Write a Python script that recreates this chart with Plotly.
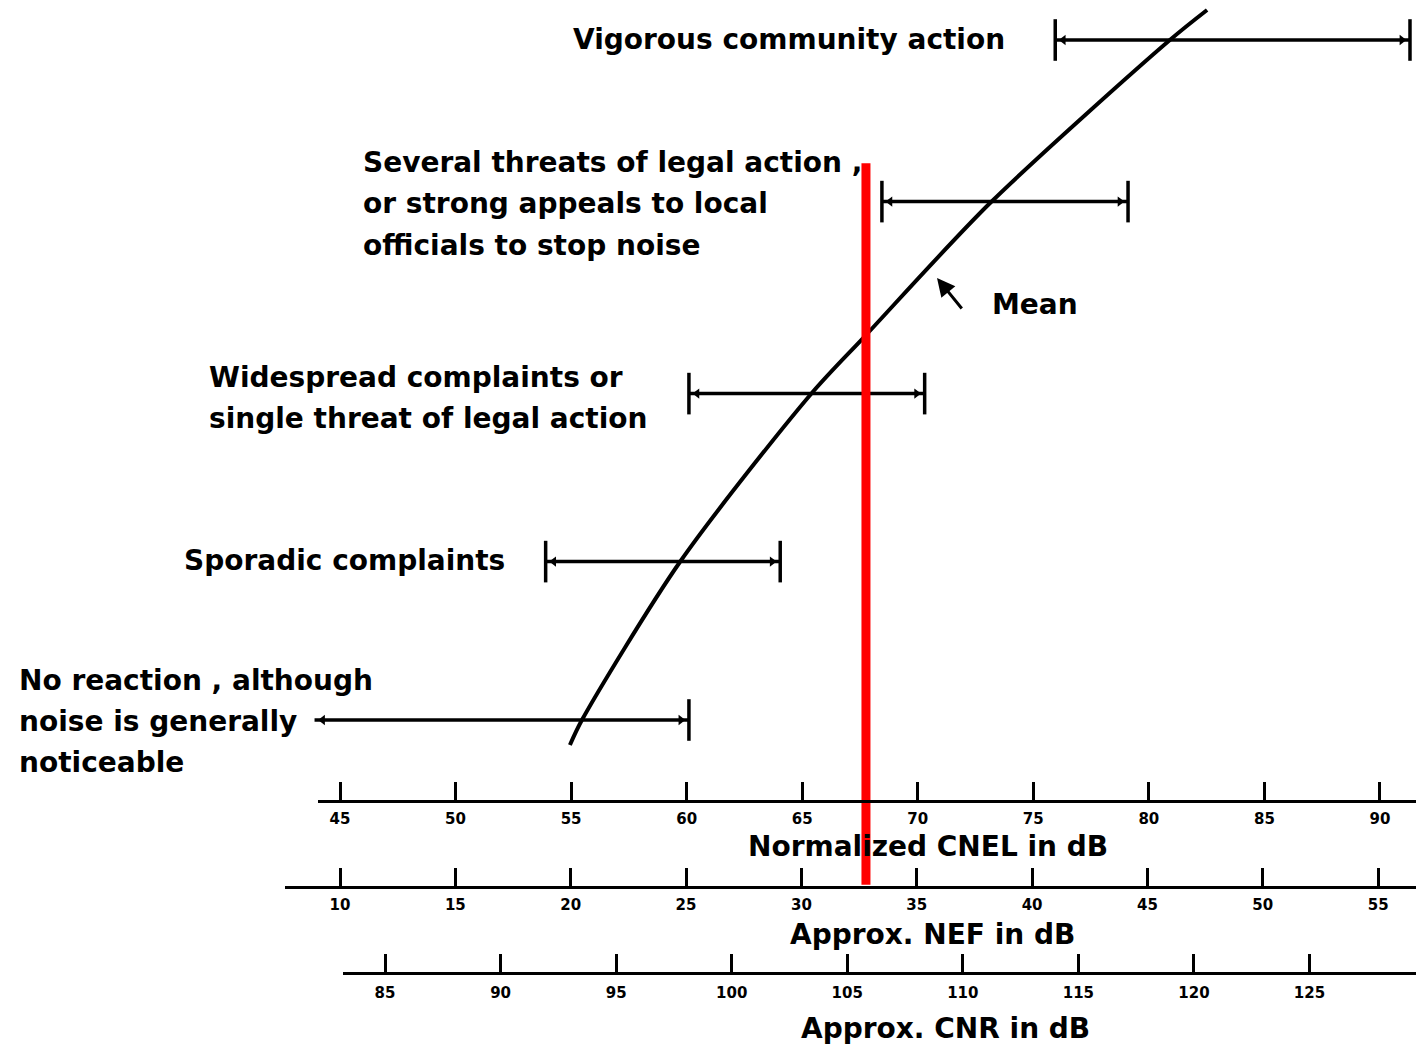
import plotly.graph_objects as go

# ---------------- data ----------------
# Community reaction levels (ordinal scale, vertical position of each row)
levels = ["No reaction", "Sporadic complaints", "Widespread complaints",
          "Threats of legal action", "Vigorous community action"]
level_y = [0.0, 0.99, 2.04, 3.24, 4.25]
# CNEL range (dB) over which each reaction is observed
range_low = [43.9, 53.9, 60.1, 68.45, 75.95]
range_high = [60.1, 64.05, 70.3, 79.1, 91.3]
left_cap = [False, True, True, True, True]
# Mean reaction curve (CNEL dB vs reaction level)
mean_cnel = [54.95, 55.47, 59.71, 65.42, 67.76, 73.13, 80.91, 82.52]
mean_level = [-0.156, 0.0, 0.9875, 2.044, 2.406, 3.231, 4.25, 4.4375]
# Project CNEL marker (red line)
marker_cnel = 67.76
marker_level = [3.48, -1.03]

# Axis tick values
cnel_ticks = [45, 50, 55, 60, 65, 70, 75, 80, 85, 90]
nef_ticks = [10, 15, 20, 25, 30, 35, 40, 45, 50, 55]
cnr_ticks = [85, 90, 95, 100, 105, 110, 115, 120, 125]

W, H = 1416, 1047
FONT = "DejaVu Sans"


def px(x):
    return x / W


def py(y):
    return 1 - y / H


fig = go.Figure()

# Mean curve
fig.add_trace(go.Scatter(x=mean_cnel, y=mean_level, mode="lines",
                         line=dict(color="black", width=4, shape="spline", smoothing=0.8),
                         showlegend=False, hoverinfo="skip"))

# Range bars with caps
cap_half = 0.13
bx, by = [], []
for lo, hi, yv, lc in zip(range_low, range_high, level_y, left_cap):
    bx += [lo, hi, None]
    by += [yv, yv, None]
    bx += [hi, hi, None]
    by += [yv - cap_half, yv + cap_half, None]
    if lc:
        bx += [lo, lo, None]
        by += [yv - cap_half, yv + cap_half, None]
fig.add_trace(go.Scatter(x=bx, y=by, mode="lines",
                         line=dict(color="black", width=3.5),
                         showlegend=False, hoverinfo="skip"))
# Arrow heads
fig.add_trace(go.Scatter(x=[v + 0.35 for v in range_low], y=level_y, mode="markers",
                         marker=dict(symbol="triangle-left", size=9, color="black"),
                         showlegend=False, hoverinfo="skip"))
fig.add_trace(go.Scatter(x=[v - 0.35 for v in range_high], y=level_y, mode="markers",
                         marker=dict(symbol="triangle-right", size=9, color="black"),
                         showlegend=False, hoverinfo="skip"))

# Red marker line
fig.add_trace(go.Scatter(x=[marker_cnel, marker_cnel], y=marker_level, mode="lines",
                         line=dict(color="#ff0000", width=9),
                         showlegend=False, hoverinfo="skip"))

# dummy traces to create the visible scale axes
for xa in ["x2", "x3", "x4"]:
    fig.add_trace(go.Scatter(x=[None], y=[None], xaxis=xa, yaxis="y",
                             showlegend=False, hoverinfo="skip"))

axis_common = dict(showgrid=False, zeroline=False, showline=True, linecolor="black",
                   linewidth=3, ticks="inside", ticklen=18, tickwidth=2.5,
                   tickcolor="black", anchor="free", side="bottom",
                   tickfont=dict(family=FONT, size=15, color="black", weight="bold"),
                   layer="below traces", fixedrange=True, automargin=False)

fig.update_layout(
    width=W, height=H,
    margin=dict(l=0, r=0, t=0, b=0),
    paper_bgcolor="white", plot_bgcolor="rgba(0,0,0,0)",
    xaxis=dict(domain=[0, 1], range=[30.29, 91.56], visible=False, fixedrange=True),
    yaxis=dict(domain=[0, 1], range=[-2.04375, 4.5], visible=False, fixedrange=True),
    xaxis2=dict(axis_common, domain=[px(318), 1], range=[44.048, 91.56],
                position=py(801), tickvals=cnel_ticks, ticklabelstandoff=3),
    xaxis3=dict(axis_common, domain=[px(285), 1], range=[7.616, 56.64],
                position=py(887), tickvals=nef_ticks, ticklabelstandoff=3),
    xaxis4=dict(axis_common, domain=[px(343), 1], range=[83.18, 129.61],
                position=py(973), tickvals=cnr_ticks, ticklabelstandoff=5),
    showlegend=False,
)

TF = dict(family=FONT, size=28, color="black")
texts = [
    ("<b>Vigorous community action</b>", 1006, 40, "right"),
    ("<b>Several threats of legal action ,</b>", 362, 162, "left"),
    ("<b>or strong appeals to local</b>", 362, 203, "left"),
    ("<b>officials to stop noise</b>", 362, 245, "left"),
    ("<b>Widespread complaints or</b>", 208, 378, "left"),
    ("<b>single threat of legal action</b>", 208, 418, "left"),
    ("<b>Sporadic complaints</b>", 183, 560, "left"),
    ("<b>No reaction , although</b>", 18, 680, "left"),
    ("<b>noise is generally</b>", 18, 721, "left"),
    ("<b>noticeable</b>", 18, 762, "left"),
    ("<b>Mean</b>", 1035, 305, "center"),
    ("<b>Normalized CNEL in dB</b>", 928, 846, "center"),
    ("<b>Approx. NEF in dB</b>", 932, 934, "center"),
    ("<b>Approx. CNR in dB</b>", 945, 1028, "center"),
]
for t, x, y, anc in texts:
    fig.add_annotation(text=t, x=px(x), y=py(y), xref="paper", yref="paper",
                       xanchor=anc, yanchor="middle", showarrow=False, font=TF,
                       borderpad=0)

# Mean pointer arrow
fig.add_annotation(x=px(937), y=py(278), xref="paper", yref="paper", text="",
                   showarrow=True, ax=26, ay=32, arrowhead=2, arrowsize=1.2,
                   arrowwidth=3, arrowcolor="black")

fig.write_html("out.html", config={"displayModeBar": False},
               post_script="document.body.style.margin='0';")
